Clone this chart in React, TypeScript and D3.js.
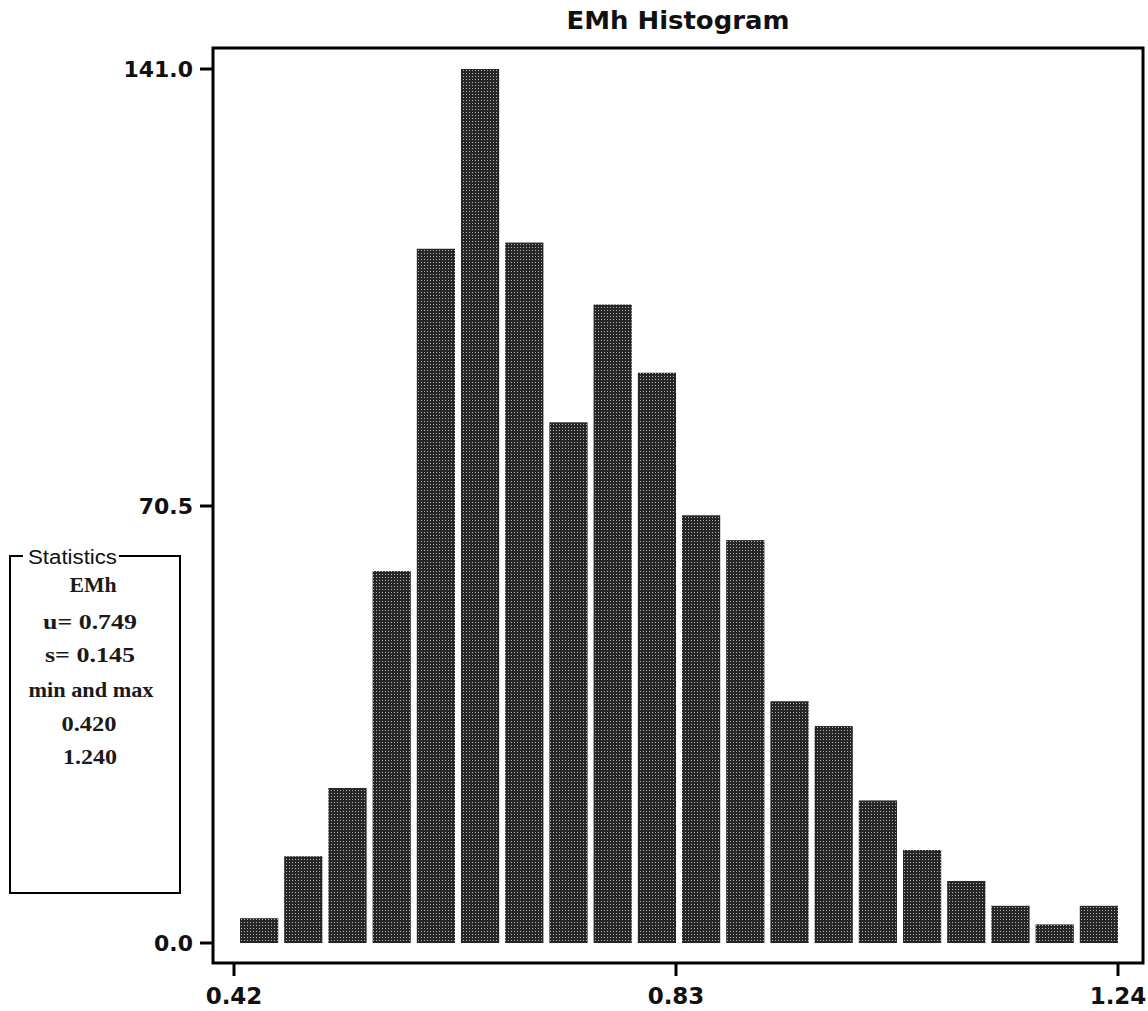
import React from "react";
import * as d3 from "d3";

const title = "EMh Histogram";
const counts = [4, 14, 25, 60, 112, 141, 113, 84, 103, 92, 69, 65, 39, 35, 23, 15, 10, 6, 3, 6];
const xMin = 0.42;
const xMax = 1.24;
const xTicks = [0.42, 0.83, 1.24];
const yTicks = [0.0, 70.5, 141.0];
const statsLines = ["EMh", "u= 0.749", "s= 0.145", "min and max", "0.420", "1.240"];

export default function App() {
  const W = 1148, H = 1011;
  const x = d3.scaleLinear().domain([xMin, xMax]).range([234, 1118]);
  const y = d3.scaleLinear().domain([0, 141]).range([943, 69]);
  const binW = (xMax - xMin) / counts.length;
  const sans = "'DejaVu Sans', Verdana, sans-serif";
  const narrow = "'Liberation Sans Narrow', 'Liberation Sans', Arial, sans-serif";
  const serif = "'Liberation Serif', 'Times New Roman', serif";
  const statY = [585, 622, 655, 690, 724, 757];
  const statW = [47, 94, 90, 125, 55, 54];
  const statX = [93, 90, 90, 91, 89, 90];
  return (
    <svg width={W} height={H} style={{ position: "absolute", left: 0, top: 0, background: "#fff" }}>
      <defs>
        <pattern id="dots" width="3" height="3" patternUnits="userSpaceOnUse">
          <rect width="3" height="3" fill="#262626" />
          <rect x="1" y="1" width="1" height="1" fill="#b4b4b4" />
        </pattern>
      </defs>
      <text x={678} y={29} textAnchor="middle" fontFamily={sans} fontSize={25} fontWeight="bold" fill="#111" textLength={223} lengthAdjust="spacingAndGlyphs">
        {title}
      </text>
      {counts.map((c, i) => {
        const x0 = xMin + i * binW;
        const x1 = x0 + binW;
        const left = x(x0) + 6;
        return (
          <rect key={i} x={left} y={y(c)} width={x(x1) - left} height={y(0) - y(c)} fill="url(#dots)" />
        );
      })}
      <rect x={213} y={48} width={930} height={915} fill="none" stroke="#000" strokeWidth={3} />
      {yTicks.map((t) => (
        <g key={t}>
          <line x1={200} x2={213} y1={y(t)} y2={y(t)} stroke="#000" strokeWidth={3} />
          <text x={193} y={y(t) + 8} textAnchor="end" fontFamily={sans} fontSize={22} fontWeight="bold" fill="#111">
            {t.toFixed(1)}
          </text>
        </g>
      ))}
      {xTicks.map((t) => (
        <g key={t}>
          <line x1={x(t)} x2={x(t)} y1={963} y2={976} stroke="#000" strokeWidth={3} />
          <text x={x(t)} y={1004} textAnchor="middle" fontFamily={sans} fontSize={23} fontWeight="bold" fill="#111">
            {t.toFixed(2)}
          </text>
        </g>
      ))}
      <path d="M 23 556 L 10 556 L 10 893 L 180 893 L 180 556 L 119 556" fill="none" stroke="#000" strokeWidth={2} />
      <text x={28} y={564} fontFamily={narrow} fontSize={20} fill="#111" textLength={89} lengthAdjust="spacingAndGlyphs">
        Statistics
      </text>
      {statsLines.map((s, i) => (
        <text
          key={i}
          x={statX[i] - statW[i] / 2}
          y={statY[i] + 7}
          fontFamily={serif}
          fontSize={20}
          fontWeight="bold"
          fill="#1a1a1a"
          textLength={statW[i]}
          lengthAdjust="spacingAndGlyphs"
        >
          {s}
        </text>
      ))}
    </svg>
  );
}
